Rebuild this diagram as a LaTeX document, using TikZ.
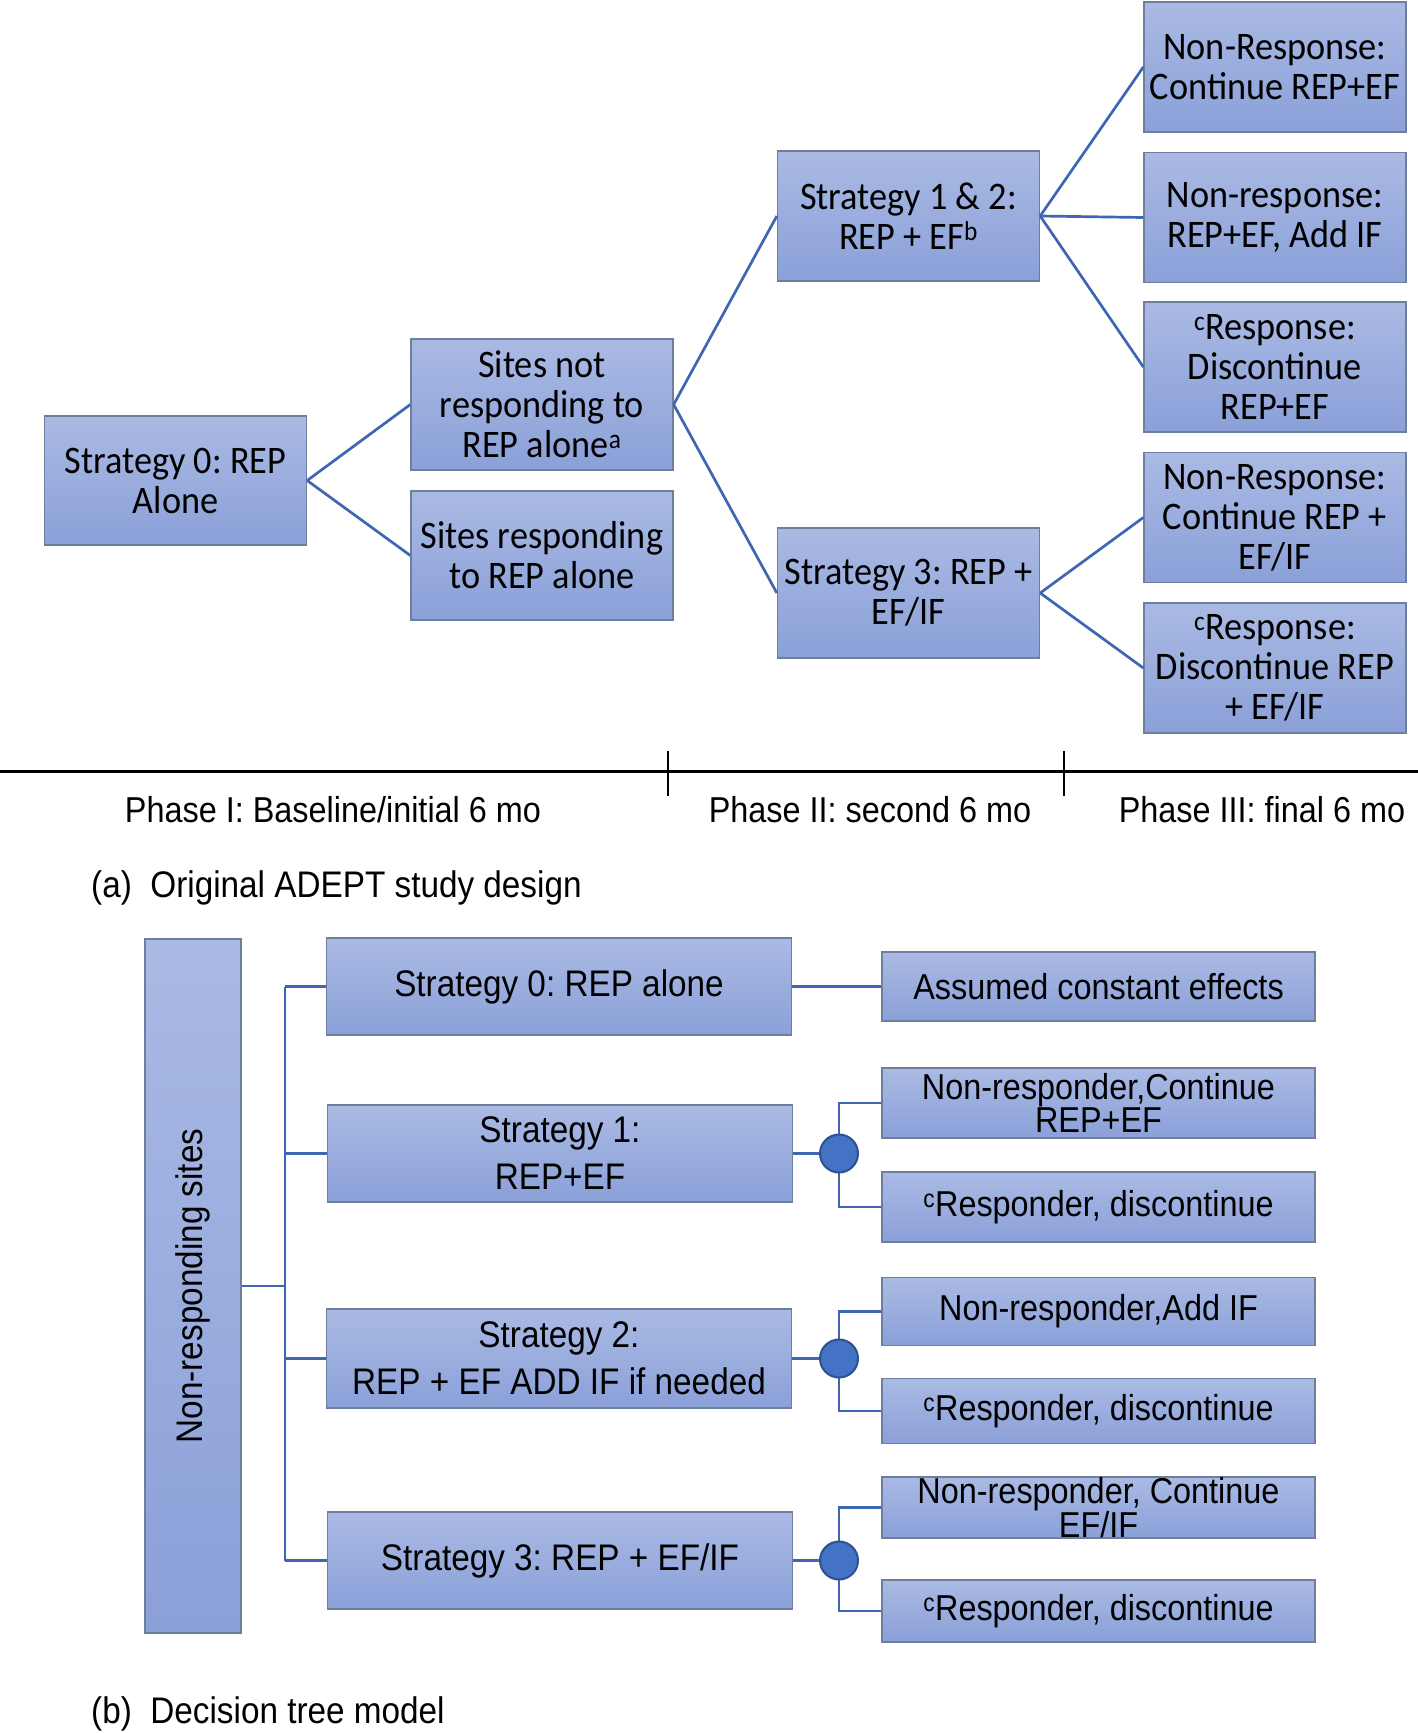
\documentclass[tikz,border=0pt]{standalone}
\usepackage{fontspec}
\newfontfamily\calfont[FakeStretch=0.93]{Carlito}
\newfontfamily\arfont[FakeStretch=0.9]{Liberation Sans}
\frenchspacing
\definecolor{boxtop}{RGB}{170,186,228}
\definecolor{boxbot}{RGB}{138,160,216}
\definecolor{boxline}{RGB}{112,126,158}
\definecolor{conn}{RGB}{62,102,178}
\definecolor{dotfill}{RGB}{68,114,196}
\definecolor{dotline}{RGB}{47,82,143}
\tikzset{
 box/.style={draw=boxline, line width=1.3pt, top color=boxtop, bottom color=boxbot, inner sep=0pt, align=center},
 tbox/.style={box, minimum width=262pt, minimum height=130pt, font=\calfont\frenchspacing\fontsize{39}{40}\selectfont},
 sbox/.style={box, minimum width=465pt, minimum height=97pt, font=\arfont\frenchspacing\fontsize{37}{47}\selectfont},
 rbox/.style={box, minimum width=433pt, font=\arfont\frenchspacing\fontsize{36}{32}\selectfont},
 link/.style={draw=conn, line width=2.7pt},
 dot/.style={circle, draw=dotline, line width=2pt, fill=dotfill, minimum size=38pt, inner sep=0pt},
 lbl/.style={font=\arfont\frenchspacing\fontsize{36}{40}\selectfont, inner sep=0pt},
 captext/.style={font=\arfont\frenchspacing\fontsize{37}{40}\selectfont, inner sep=0pt, anchor=west},
}
\begin{document}
\begin{tikzpicture}[x=1pt,y=-1pt]
\useasboundingbox[fill=white] (0,0) rectangle (1418,1733);

% ---------- (a) ----------
\node[tbox, minimum height=129pt] (s0) at (175.5,480.5) {Strategy 0: REP\\Alone};
\node[tbox, minimum height=131pt] (nr) at (542,404.5) {Sites not\\responding to\\REP alone\textsuperscript{a}};
\node[tbox, minimum height=129pt] (rs) at (542,555.5) {Sites responding\\to REP alone};
\node[tbox] (s12) at (908.5,216) {Strategy 1 \& 2:\\REP + EF\textsuperscript{b}};
\node[tbox] (s3) at (908.5,593) {Strategy 3: REP +\\EF/IF};
\node[tbox] (o1) at (1275,67) {Non-Response:\\Continue REP+EF};
\node[tbox] (o2) at (1275,217.5) {Non-response:\\REP+EF, Add IF};
\node[tbox] (o3) at (1275,367) {\textsuperscript{c}Response:\\Discontinue\\REP+EF};
\node[tbox] (o4) at (1275,517.5) {Non-Response:\\Continue REP +\\EF/IF};
\node[tbox] (o5) at (1275,668) {\textsuperscript{c}Response:\\Discontinue REP\\+ EF/IF};

\draw[link] (s0.east) -- (nr.west);
\draw[link] (s0.east) -- (rs.west);
\draw[link] (nr.east) -- (s12.west);
\draw[link] (nr.east) -- (s3.west);
\draw[link] (s12.east) -- (o1.west);
\draw[link] (s12.east) -- (o2.west);
\draw[link] (s12.east) -- (o3.west);
\draw[link] (s3.east) -- (o4.west);
\draw[link] (s3.east) -- (o5.west);

% timeline
\coordinate (tlA) at (0,771);
\coordinate (tlB) at (1418,771);
\coordinate (tk1a) at (668,751);
\coordinate (tk1b) at (668,796);
\coordinate (tk2a) at (1064,751);
\coordinate (tk2b) at (1064,796);
\draw[line width=3pt] (tlA) -- (tlB);
\draw[line width=2pt] (tk1a) -- (tk1b);
\draw[line width=2pt] (tk2a) -- (tk2b);
\node[lbl] (ph1) at (333,810) {Phase I: Baseline/initial 6 mo};
\node[lbl] (ph2) at (870,810) {Phase II: second 6 mo};
\node[lbl] (ph3) at (1262,810) {Phase III: final 6 mo};
\node[captext] (capa) at (91,888) {(a)\ \ Original ADEPT study design};

% ---------- (b) ----------
\node[box, minimum width=96pt, minimum height=694pt] (nrs) at (193,1286) {};
\node[lbl, rotate=90, font=\arfont\fontsize{37}{40}\selectfont] (nrstext) at (nrs.center) {Non-responding sites};

\node[sbox] (t0) at (559,986.5) {Strategy 0: REP alone};
\node[sbox] (t1) at (560,1153.5) {Strategy 1:\\REP+EF};
\node[sbox, minimum height=99pt] (t2) at (559,1358.5) {Strategy 2:\\REP + EF ADD IF if needed};
\node[sbox] (t3) at (560,1560.5) {Strategy 3: REP + EF/IF};

\node[rbox, minimum height=69pt] (ac) at (1098.5,986.5) {Assumed constant effects};
\node[rbox, minimum height=70pt] (n1) at (1098.5,1103) {Non-responder,Continue\\REP+EF};
\node[rbox, minimum height=70pt] (r1) at (1098.5,1207) {\textsuperscript{c}Responder, discontinue};
\node[rbox, minimum height=68pt] (n2) at (1098.5,1311.5) {Non-responder,Add IF};
\node[rbox, minimum height=65pt] (r2) at (1098.5,1411) {\textsuperscript{c}Responder, discontinue};
\node[rbox, minimum height=61pt] (n3) at (1098.5,1507.5) {Non-responder, Continue\\EF/IF};
\node[rbox, minimum height=62pt] (r3) at (1098.5,1611) {\textsuperscript{c}Responder, discontinue};

\coordinate (trunk) at (285,1286);
\draw[link] (nrs.east) -- (trunk);
\draw[link] (trunk |- t0.west) -- (trunk |- t3.west);
\draw[link] (trunk |- t0.west) -- (t0.west);
\draw[link] (trunk |- t1.west) -- (t1.west);
\draw[link] (trunk |- t2.west) -- (t2.west);
\draw[link] (trunk |- t3.west) -- (t3.west);
\draw[link] (t0.east) -- (ac.west);

\coordinate (cx) at (839,0);
\foreach \t/\n/\r/\c in {t1/n1/r1/c1, t2/n2/r2/c2, t3/n3/r3/c3}{
  \draw[link] (\t.east) -- (cx |- \t.east);
  \draw[link] (\n.west) -| (cx |- \t.east) |- (\r.west);
  \node[dot] (\c) at (cx |- \t.east) {};
}

\node[captext] (capb) at (91,1714) {(b)\ \ Decision tree model};
\end{tikzpicture}
\end{document}
